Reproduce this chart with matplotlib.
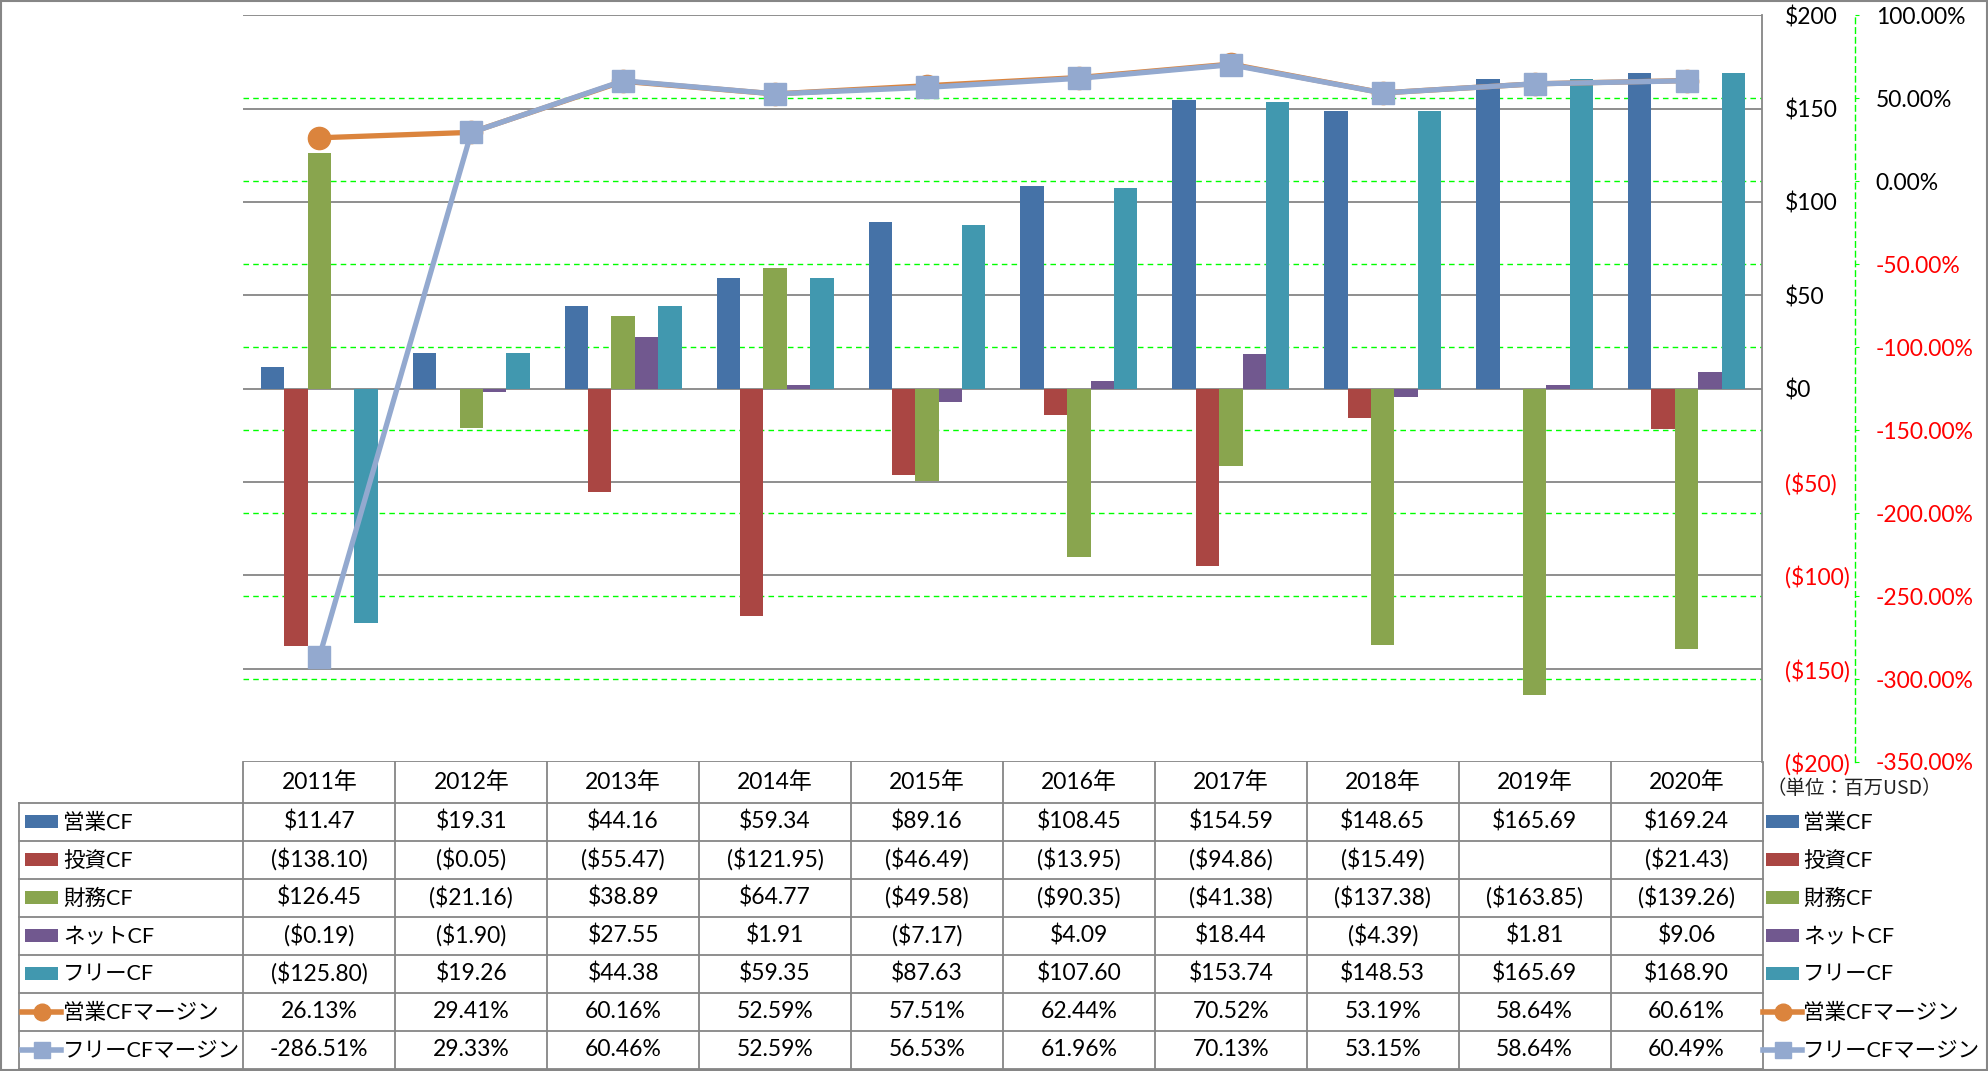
import matplotlib.pyplot as plt
import numpy as np
from matplotlib.patches import Rectangle

plt.rcParams["font.family"] = ["Lato", "Noto Sans CJK JP", "DejaVu Sans"]

# --- data (百万USD / %) ---
years = ["2011年", "2012年", "2013年", "2014年", "2015年",
         "2016年", "2017年", "2018年", "2019年", "2020年"]
op_cf = [11.47, 19.31, 44.16, 59.34, 89.16, 108.45, 154.59, 148.65, 165.69, 169.24]
inv_cf = [-138.10, -0.05, -55.47, -121.95, -46.49, -13.95, -94.86, -15.49, None, -21.43]
fin_cf = [126.45, -21.16, 38.89, 64.77, -49.58, -90.35, -41.38, -137.38, -163.85, -139.26]
net_cf = [-0.19, -1.90, 27.55, 1.91, -7.17, 4.09, 18.44, -4.39, 1.81, 9.06]
free_cf = [-125.80, 19.26, 44.38, 59.35, 87.63, 107.60, 153.74, 148.53, 165.69, 168.90]
op_margin = [26.13, 29.41, 60.16, 52.59, 57.51, 62.44, 70.52, 53.19, 58.64, 60.61]
free_margin = [-286.51, 29.33, 60.46, 52.59, 56.53, 61.96, 70.13, 53.15, 58.64, 60.49]

bar_series = [
    ("営業CF", op_cf, "#4572A7"),
    ("投資CF", inv_cf, "#AA4643"),
    ("財務CF", fin_cf, "#89A54E"),
    ("ネットCF", net_cf, "#71588F"),
    ("フリーCF", free_cf, "#4198AF"),
]
line_series = [
    ("営業CFマージン", op_margin, "#DB843D", "o"),
    ("フリーCFマージン", free_margin, "#93A9CF", "s"),
]

usd_ticks = np.arange(-200, 201, 50)
pct_ticks = np.arange(-350, 101, 50)


def fmt_usd(v):
    if v is None:
        return ""
    return f"(${abs(v):.2f})" if v < 0 else f"${v:.2f}"


def fmt_pct(v):
    return f"{v:.2f}%"


# --- layout (pixels of the 1988x1071 canvas) ---
W, H = 1988, 1071
PL, PR, PT, PB = 243.4, 1762.5, 15.2, 762.0
ROW0, ROW_H = 802.6, 38.0
GRID = "#868686"
LIME = "#00FF00"
RED = "#FF0000"
FS = 16.5

fig = plt.figure(figsize=(W / 100, H / 100), dpi=100)
rect = [PL / W, 1 - PB / H, (PR - PL) / W, (PB - PT) / H]

# secondary (percent) axis: green dashed grid + axis on the far right
ax_pct = fig.add_axes(rect, zorder=0)
ax_pct.set_xlim(-0.5, 9.5)
ax_pct.set_ylim(-350, 100)
for s in ["left", "top", "bottom"]:
    ax_pct.spines[s].set_visible(False)
ax_pct.spines["right"].set_position(("outward", (1855 - PR) * 0.72))
ax_pct.spines["right"].set_color(LIME)
ax_pct.spines["right"].set_linestyle((0, (4, 3)))
ax_pct.spines["right"].set_linewidth(1.0)
ax_pct.set_xticks([])
ax_pct.yaxis.tick_right()
ax_pct.set_yticks(pct_ticks)
ax_pct.set_yticklabels([fmt_pct(v) for v in pct_ticks])
ax_pct.tick_params(axis="y", length=3, color=LIME, pad=12, labelsize=FS)
for lab, v in zip(ax_pct.get_yticklabels(), pct_ticks):
    lab.set_color(RED if v < 0 else "black")
for v in pct_ticks[1:-1]:
    ax_pct.axhline(v, color=LIME, lw=1.0, ls=(0, (4, 3)))

# primary (USD) axis with bars
ax = fig.add_axes(rect, zorder=1)
ax.patch.set_visible(False)
ax.set_xlim(-0.5, 9.5)
ax.set_ylim(-200, 200)
for s in ["left", "top", "bottom"]:
    ax.spines[s].set_visible(False)
ax.spines["right"].set_color(GRID)
ax.spines["right"].set_linewidth(1.3)
ax.set_xticks([])
ax.yaxis.tick_right()
ax.set_yticks(usd_ticks)
ax.set_yticklabels([fmt_usd(v).replace(".00", "") for v in usd_ticks])
ax.tick_params(axis="y", length=0, pad=16, labelsize=FS)
for lab, v in zip(ax.get_yticklabels(), usd_ticks):
    lab.set_color(RED if v < 0 else "black")
for v in usd_ticks:
    ax.axhline(v, color=GRID, lw=1.3, zorder=0.5)

x = np.arange(len(years))
bw = 1 / 6.5
for k, (name, vals, color) in enumerate(bar_series):
    xs = [xi + (k - 2) * bw for xi, v in zip(x, vals) if v is not None]
    hs = [v for v in vals if v is not None]
    ax.bar(xs, hs, width=bw, color=color, zorder=2, linewidth=0)

# margin lines on top
ax_ln = fig.add_axes(rect, zorder=2)
ax_ln.patch.set_visible(False)
ax_ln.set_xlim(-0.5, 9.5)
ax_ln.set_ylim(-350, 100)
ax_ln.axis("off")
for name, vals, color, mk in line_series:
    ax_ln.plot(x, vals, color=color, lw=3.8, marker=mk, markersize=16,
               markerfacecolor=color, markeredgecolor=color, solid_capstyle="round")

# --- data table, legend keys and frame ---
tab = fig.add_axes([0, 0, 1, 1], zorder=3)
tab.set_xlim(0, W)
tab.set_ylim(H, 0)
tab.axis("off")

col_w = (PR - PL) / len(years)
col_edges = [PL + i * col_w for i in range(len(years) + 1)]
row_edges = [ROW0 + i * ROW_H for i in range(8)]
TL = 19.0

for xe in col_edges:
    tab.plot([xe, xe], [PB, row_edges[-1]], color=GRID, lw=1.3)
tab.plot([TL, TL], [ROW0, row_edges[-1]], color=GRID, lw=1.3)
for ye in row_edges:
    tab.plot([TL, PR], [ye, ye], color=GRID, lw=1.3)

for i, yr in enumerate(years):
    tab.text(col_edges[i] + col_w / 2, (PB + ROW0) / 2, yr, ha="center",
             va="center", fontsize=FS)

rows = [(n, v, c, None) for n, v, c in bar_series] + list(line_series)
for r, (name, vals, color, mk) in enumerate(rows):
    yc = ROW0 + (r + 0.5) * ROW_H
    texts = [fmt_usd(v) for v in vals] if mk is None else [fmt_pct(v) for v in vals]
    for i, t in enumerate(texts):
        tab.text(col_edges[i] + col_w / 2, yc, t, ha="center", va="center",
                 fontsize=FS)
    for kx0, kx1, tx in [(25, 58, 63), (1766, 1799, 1803)]:
        if mk is None:
            tab.add_patch(Rectangle((kx0, yc - 6.5), kx1 - kx0, 13, color=color, lw=0))
        else:
            tab.plot([kx0 - 3, (kx0 + kx1) / 2, kx1 + 3], [yc] * 3, color=color,
                     lw=4, marker=mk, markersize=12, markevery=[1],
                     markerfacecolor=color, markeredgecolor=color)
        tab.text(tx, yc + 1, name, ha="left", va="center", fontsize=15.5)

tab.text(1767, 789, "（単位：百万USD）", ha="left", va="center", fontsize=14,
         color="#222222", family=["Noto Sans CJK JP", "DejaVu Sans"])

tab.add_patch(Rectangle((0.5, 0.5), W - 1.5, H - 1.5, fill=False, edgecolor=GRID, lw=1.5))

fig.savefig("out.png", dpi=100)
